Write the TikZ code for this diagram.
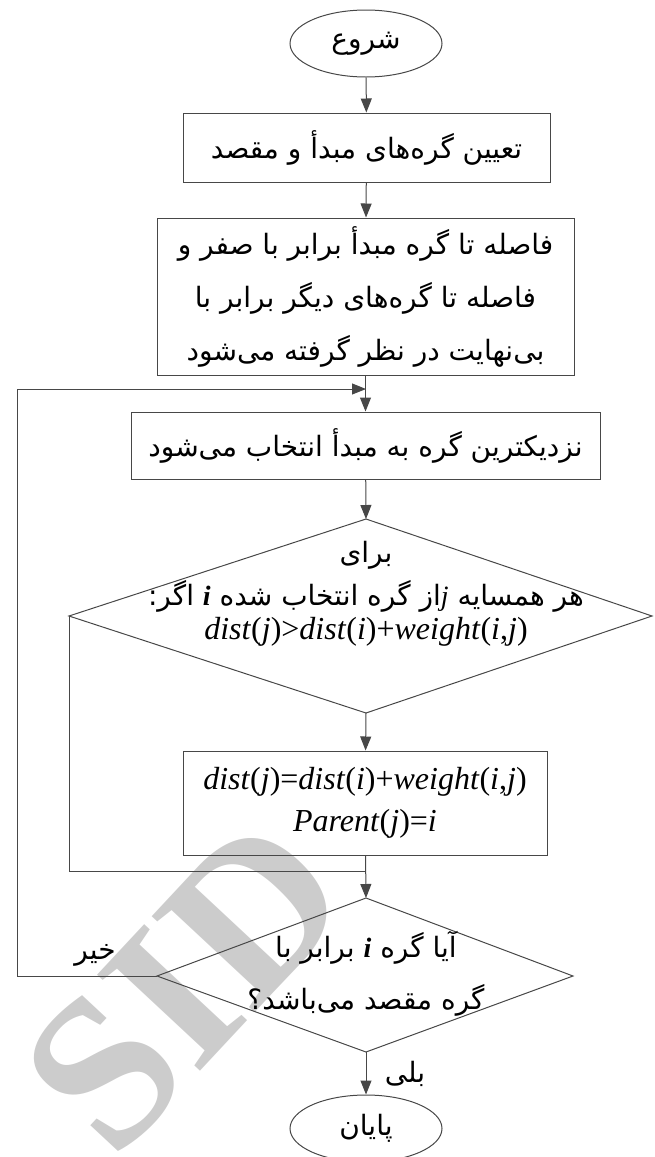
\documentclass[tikz,border=0pt]{standalone}
\usepackage{fontspec}
\setmainfont{Liberation Serif}
\newfontfamily\fafont[Script=Arabic]{DejaVu Sans}
\TeXXeTstate=1
\usetikzlibrary{arrows.meta,shapes.geometric}
\newcommand{\fatxt}[1]{{\fafont\beginR #1\endR}}
\newcommand{\lat}[1]{\beginL{\rmfamily\itshape #1}\endL}
\newcommand{\latb}[1]{\beginL{\rmfamily\bfseries\itshape #1}\endL}
\tikzset{
  line/.style={draw=black!72, line width=1pt},
  arr/.style={line, -{Triangle[length=14pt,width=11pt]}},
  proc/.style={line, rectangle, inner sep=0pt, align=center},
  term/.style={line, ellipse, inner sep=0pt, minimum width=152pt, minimum height=67pt},
  txt/.style={inner sep=0pt, align=center},
  fa/.style={font=\fafont\fontsize{28}{53}\selectfont},
  la/.style={font=\rmfamily\fontsize{32}{42}\selectfont},
}
\begin{document}
\begin{tikzpicture}[x=1pt,y=-1pt]
\useasboundingbox (0,0) rectangle (654,1157);
% watermark
\node[rotate=47, text=black!20, font=\rmfamily\bfseries\fontsize{215}{215}\selectfont, inner sep=0pt] (wm) at (185,985) {SID};
% nodes
\node[term, fa] (start) at (366,43.5) {\fatxt{شروع}};
\node[proc, fa, minimum width=367pt, minimum height=69pt] (b1) at (366.5,147.5) {\fatxt{تعیین گره‌های مبدأ و مقصد}};
\node[proc, fa, minimum width=417pt, minimum height=157pt] (b2) at (365.5,296.5)
  {\fatxt{فاصله تا گره مبدأ برابر با صفر و}\\\fatxt{فاصله تا گره‌های دیگر برابر با}\\\fatxt{بی‌نهایت در نظر گرفته می‌شود}};
\node[proc, fa, minimum width=469pt, minimum height=67pt] (b3) at (365.5,445.5) {\fatxt{نزدیکترین گره به مبدأ انتخاب می‌شود}};
% decision 1
\coordinate (d1t) at (366,519);
\coordinate (d1l) at (69,616);
\coordinate (d1r) at (652,616);
\coordinate (d1b) at (366,713);
\draw[line] (d1t) -- (d1r) -- (d1b) -- (d1l) -- cycle;
\node[txt, fa, font=\fafont\fontsize{28}{43}\selectfont] (d1a) at (366,577)
  {\fatxt{برای}\\\fatxt{هر همسایه \lat{j}از گره انتخاب شده \latb{i} اگر:}};
\node[txt, la] (d1m) at (366,632) {\textit{dist}(\textit{j})>\textit{dist}(\textit{i})+\textit{weight}(\textit{i},\textit{j})};
\node[proc, la, minimum width=364pt, minimum height=104pt] (b4) at (365,803)
  {\textit{dist}(\textit{j})=\textit{dist}(\textit{i})+\textit{weight}(\textit{i},\textit{j})\\\textit{Parent}(\textit{j})=\textit{i}};
% decision 2
\coordinate (d2t) at (366,898);
\coordinate (d2l) at (157,976);
\coordinate (d2r) at (573,976);
\coordinate (d2b) at (366,1052);
\draw[line] (d2t) -- (d2r) -- (d2b) -- (d2l) -- cycle;
\node[txt, fa, font=\fafont\fontsize{28}{52}\selectfont] (d2) at (366,974)
  {\fatxt{آیا گره \latb{i} برابر با}\\\fatxt{گره مقصد می‌باشد؟}};
\node[term, fa] (end) at (366,1128.5) {\fatxt{پایان}};
\node[txt, fa] (no) at (95,955) {\fatxt{خیر}};
\node[txt, fa] (yes) at (405,1074) {\fatxt{بلی}};
% loop coordinates
\coordinate (j1) at (366,389);
\coordinate (o1) at (17,976);
\coordinate (o2) at (17,389);
\coordinate (i1) at (69,871);
\coordinate (j2) at (366,871);
% connectors
\draw[arr] (start) -- (b1);
\draw[arr] (b1) -- (b2);
\draw[arr] (b2) -- (b3);
\draw[arr] (d2l) -- (o1) -- (o2) -- (j1);
\draw[arr] (b3) -- (d1t);
\draw[arr] (d1b) -- (b4);
\draw[line] (d1l) -- (i1) -- (j2);
\draw[arr] (b4) -- (d2t);
\draw[arr] (d2b) -- (end);
\end{tikzpicture}
\end{document}
